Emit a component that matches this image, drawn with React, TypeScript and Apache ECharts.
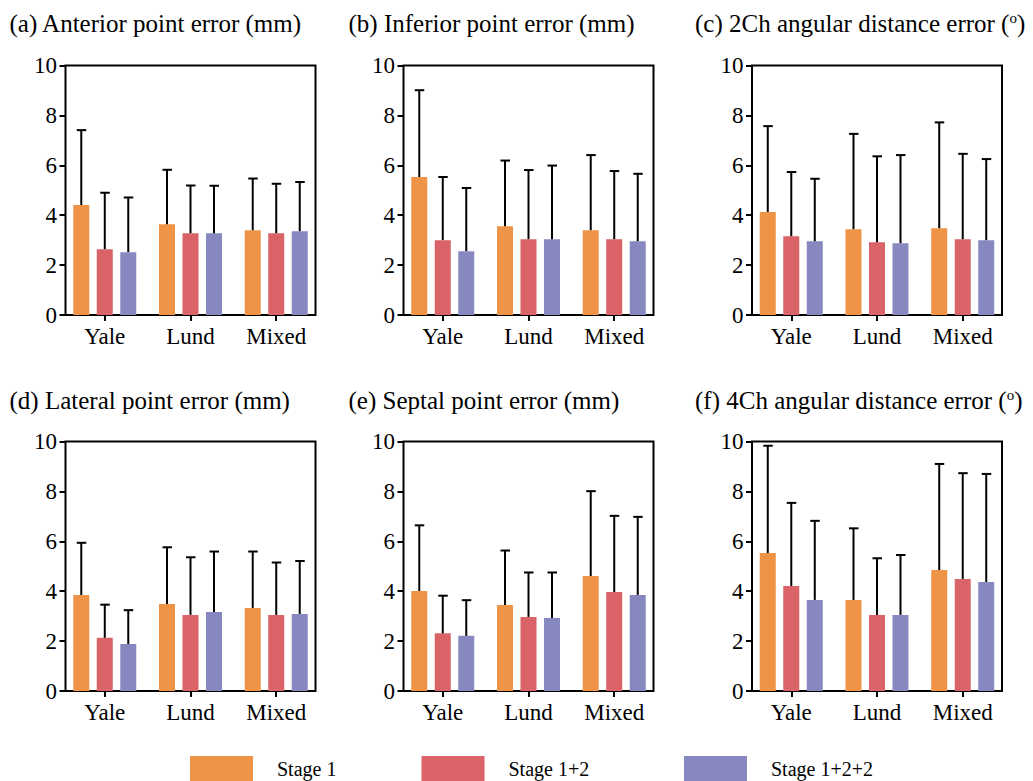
import React, { useEffect, useRef } from "react";
import * as echarts from "echarts";

const categories = ["Yale", "Lund", "Mixed"];
const stages = ["Stage 1", "Stage 1+2", "Stage 1+2+2"];
const stageColors = ["#EF9446", "#D96367", "#8788C0"];

const panelTitles = [
  "(a) Anterior point error (mm)",
  "(b) Inferior point error (mm)",
  "(c) 2Ch angular distance error ({sup|o})",
  "(d) Lateral point error (mm)",
  "(e) Septal point error (mm)",
  "(f) 4Ch angular distance error ({sup|o})",
];

// mean values: rows = stage, columns = category
const anteriorMean = [[4.41, 3.64, 3.40], [2.64, 3.28, 3.28], [2.52, 3.28, 3.36]];
const anteriorUpper = [[7.41, 5.82, 5.47], [4.90, 5.19, 5.26], [4.71, 5.18, 5.33]];
const inferiorMean = [[5.53, 3.56, 3.40], [3.00, 3.04, 3.04], [2.56, 3.04, 2.96]];
const inferiorUpper = [[9.01, 6.19, 6.41], [5.53, 5.81, 5.77], [5.09, 5.99, 5.66]];
const twoChMean = [[4.13, 3.44, 3.48], [3.16, 2.92, 3.04], [2.96, 2.88, 3.00]];
const twoChUpper = [[7.57, 7.26, 7.72], [5.73, 6.36, 6.46], [5.46, 6.41, 6.25]];
const lateralMean = [[3.85, 3.49, 3.33], [2.13, 3.05, 3.05], [1.88, 3.17, 3.09]];
const lateralUpper = [[5.94, 5.76, 5.59], [3.46, 5.36, 5.15], [3.24, 5.59, 5.21]];
const septalMean = [[4.01, 3.45, 4.61], [2.31, 2.97, 3.97], [2.21, 2.93, 3.85]];
const septalUpper = [[6.64, 5.63, 8.01], [3.82, 4.75, 7.02], [3.64, 4.75, 6.98]];
const fourChMean = [[5.53, 3.65, 4.85], [4.21, 3.05, 4.49], [3.65, 3.05, 4.37]];
const fourChUpper = [[9.83, 6.52, 9.10], [7.54, 5.32, 8.73], [6.82, 5.45, 8.70]];

const panelMeans = [anteriorMean, inferiorMean, twoChMean, lateralMean, septalMean, fourChMean];
const panelUppers = [anteriorUpper, inferiorUpper, twoChUpper, lateralUpper, septalUpper, fourChUpper];

const yTicks = { min: 0, max: 10, interval: 2 };

const FONT = "Liberation Serif";
const AXIS_FONT = "Liberation Serif, serif";
const colLefts = [65.5, 403.5, 752];
const rowTops = [65.5, 441.5];
const BOX_W = 250;
const BOX_H = 249.5;
const BAND_EXTRA = 3.6;
const BAR_W = 16;
const BAR_GAP = 7.5;
const titleX = [9.5, 348.5, 695];
const titleY = [23, 400.5];
const legendLefts = [190, 421.5, 684];

function buildOption() {
  const grid: any[] = [];
  const xAxis: any[] = [];
  const yAxis: any[] = [];
  const series: any[] = [];
  const graphic: any[] = [];

  const labelStyle = {
    fontSize: 23, fontFamily: AXIS_FONT, fontWeight: "normal", fontStyle: "normal", color: "#000",
  };

  panelMeans.forEach((means, p) => {
    const r = Math.floor(p / 3);
    const c = p % 3;
    const left = colLefts[c];
    const top = rowTops[r];
    grid.push({
      left, top, width: BOX_W, height: BOX_H,
      show: true, borderColor: "#000", borderWidth: 2, backgroundColor: "transparent",
    });
    grid.push({
      left: left - BAND_EXTRA, top, width: BOX_W + 2 * BAND_EXTRA, height: BOX_H,
      show: false,
    });
    xAxis.push({ type: "value", gridIndex: 2 * p, min: 0, max: 1, show: false });
    xAxis.push({
      type: "category", gridIndex: 2 * p + 1, data: categories,
      axisLine: { show: false },
      axisTick: { show: true, alignWithLabel: true, length: 6, lineStyle: { color: "#000", width: 2 } },
      axisLabel: { ...labelStyle, margin: 10, interval: 0 },
      splitLine: { show: false },
    });
    yAxis.push({
      type: "value", gridIndex: 2 * p, ...yTicks,
      axisLine: { show: false },
      axisTick: { show: true, length: 6, lineStyle: { color: "#000", width: 2 } },
      axisLabel: { ...labelStyle, margin: 8.5 },
      splitLine: { show: false },
    });
    yAxis.push({ type: "value", gridIndex: 2 * p + 1, min: yTicks.min, max: yTicks.max, show: false, splitLine: { show: false } });

    stages.forEach((s, si) => {
      series.push({
        type: "bar", name: s, xAxisIndex: 2 * p + 1, yAxisIndex: 2 * p + 1,
        barWidth: BAR_W, barGap: (BAR_GAP / BAR_W) * 100 + "%",
        itemStyle: { color: stageColors[si] },
        data: means[si],
      });
    });
    stages.forEach((s, si) => {
      const offset = (si - 1) * (BAR_W + BAR_GAP);
      series.push({
        type: "custom", name: s + " error", xAxisIndex: 2 * p + 1, yAxisIndex: 2 * p + 1,
        z: 5,
        encode: { x: 0, y: [1, 2] },
        data: categories.map((_, ci) => [ci, means[si][ci], panelUppers[p][si][ci]]),
        renderItem: (params: any, api: any) => {
          const ci = api.value(0);
          const a = api.coord([ci, api.value(1)]);
          const b = api.coord([ci, api.value(2)]);
          const x = a[0] + offset;
          const st = { stroke: "#000", lineWidth: 2 };
          return {
            type: "group",
            children: [
              { type: "line", shape: { x1: x, y1: a[1], x2: x, y2: b[1] }, style: st },
              { type: "line", shape: { x1: x - 4.5, y1: b[1], x2: x + 5, y2: b[1] }, style: st },
            ],
          };
        },
      });
    });

    graphic.push({
      type: "text", x: titleX[c], y: titleY[r],
      style: {
        text: panelTitles[p],
        fontSize: 25, fontFamily: FONT, fill: "#000", verticalAlign: "middle",
        rich: { sup: { fontSize: 15, fontFamily: FONT, fill: "#000", padding: [0, 0, 11, 0] } },
      },
    });
  });

  const legend = stages.map((s, i) => ({
    data: [s], left: legendLefts[i], top: 756, itemWidth: 63, itemHeight: 26,
    icon: "rect", selectedMode: false, padding: 0,
    textStyle: { fontSize: 20, fontFamily: FONT, color: "#000", padding: [0, 0, 0, 19] },
  }));

  return {
    animation: false,
    textStyle: { fontFamily: FONT, color: "#000" },
    grid, xAxis, yAxis, series, graphic, legend,
  };
}

export default function App() {
  const ref = useRef<HTMLDivElement>(null);
  useEffect(() => {
    if (!ref.current) return;
    const chart = echarts.init(ref.current, undefined, { renderer: "svg" });
    chart.setOption(buildOption() as any);
    return () => chart.dispose();
  }, []);
  return (
    <div
      ref={ref}
      style={{ position: "fixed", left: 0, top: 0, width: 1033, height: 781, background: "#fff" }}
    />
  );
}
